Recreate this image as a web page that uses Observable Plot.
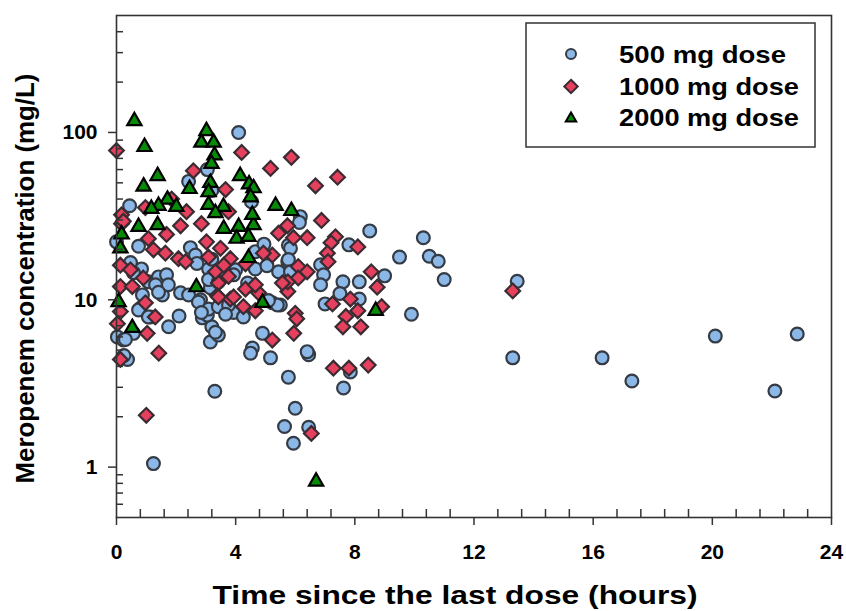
<!DOCTYPE html>
<html>
<head>
<meta charset="utf-8">
<script src="https://cdn.jsdelivr.net/npm/d3@7"></script>
<script src="https://cdn.jsdelivr.net/npm/@observablehq/plot@0.6"></script>
<style>
  html, body { margin: 0; padding: 0; background: #fff; }
  #wrap { position: relative; width: 846px; height: 611px; font-family: "Liberation Sans", Arial, sans-serif; }
  #legend { position: absolute; left: 0; top: 0; pointer-events: none; }
</style>
</head>
<body>
<div id="wrap"></div>
<script>
// ---- data (time since last dose in hours, meropenem concentration in mg/L) ----
const t500 = [10.3,10.5,10.8,11.0,9.5,9.9,9.0,8.5,13.45,13.3,16.3,17.3,20.1,22.85,22.1,
  6.17,7.8,6.85,6.95,6.85,7.6,8.15,7.5,5.75,8.15,7.0,5.5,6.45,6.4,7.85,5.77,7.62,6.0,5.64,6.45,5.94,
  1.24,3.3,0.37,0.25,0.03,0.23,0.57,0.8,1.14,0.87,1.75,2.1,1.48,1.54,2.15,2.42,2.82,2.88,3.2,3.15,3.42,3.05,3.15,3.93,4.26,5.23,5.4,4.9,4.56,4.5,5.17,
  0.0,0.74,2.48,2.65,4.66,3.09,4.0,4.66,0.84,1.07,1.41,1.68,1.31,1.74,3.09,3.42,3.93,2.75,3.09,2.85,3.42,3.76,3.66,3.32,1.41,0.74,1.07,0.3,
  4.1,2.42,3.05,4.53,0.44,6.14,5.77,5.84,5.77,5.44,5.84,5.1,3.2,0.47,0.57,4.4,2.7,3.2,4.95,5.05];
const c500 = [23.5,18.2,17,13.2,18,8.2,13.9,25.8,12.9,4.5,4.5,3.27,6.07,6.25,2.85,
  31.4,21.3,16.2,14.1,12.3,12.8,12.8,10.9,16.9,10.1,9.45,9.3,4.7,4.9,3.7,3.45,2.97,2.25,1.75,1.73,1.39,
  1.05,2.84,4.4,4.65,6.0,5.75,6.3,8.9,7.9,10.7,6.9,8.0,12.3,10.7,11.0,10.7,10.0,7.8,6.9,5.6,6.15,8.1,11.8,8.4,7.9,9.6,9.3,6.3,5.15,4.8,4.5,
  22.2,20.9,20.5,18.5,19.4,15.3,15.1,15.3,15.3,12.8,13.7,14.1,12.3,12.3,13.2,12.8,14.1,9.7,8.8,8.4,9.1,9.3,8.2,6.4,11.1,8.7,7.9,5.8,
  100,51,60,38.6,36.5,29,21.2,20.3,17.4,14.7,14.7,9.9,45,16.7,14.5,12.6,16.5,17.5,21.5,16.0];

const t1000 = [13.3,5.87,6.68,7.42,6.88,6.4,5.94,7.35,7.2,8.1,7.08,7.1,8.55,8.75,6.1,6.4,6.1,5.75,5.75,7.25,7.85,8.1,8.9,6.0,6.05,5.95,7.7,7.6,8.2,7.28,7.8,8.45,6.54,
  1.0,1.42,0.13,0.03,0.13,0.13,0.53,1.03,1.3,0.97,3.42,3.38,3.82,4.33,4.26,4.66,4.77,5.23,5.57,
  0.17,2.15,2.85,1.07,1.68,1.24,1.64,2.08,2.32,3.02,3.49,3.09,3.82,3.32,3.6,4.33,0.13,0.47,0.9,3.76,3.93,3.42,
  0,4.2,2.58,3.66,1.85,2.35,0.97,3.76,0.17,0.23,5.17,5.44,5.74,5.23,4.93,4.66];
const c1000 = [11.3,71,48,54,29.8,23.5,23.5,23.8,21.9,20.7,19,16.9,14.7,11.9,15.8,14.7,13.5,11.2,12.8,9.45,10.1,8.6,9.1,8.3,7.7,6.3,7.95,6.9,6.9,3.9,3.9,4.07,1.59,
  2.04,4.8,4.4,7.2,8.5,12,12,6.3,7.9,9.6,12.6,10.6,10.1,11.6,9.1,8.6,11.0,5.75,12.6,
  28.5,27.7,28.5,23.2,24.6,19.9,19.0,17.6,16.9,22.2,20.3,18,17.6,14.7,16.1,16.4,16.1,15.1,13.5,13.8,10.4,10.4,
  78,76,59,45.6,40,33.6,35.6,33.6,32.2,29.5,61,25,27.7,18.5,19,12.3];

const t2000 = [8.7,6.7,5.87,0.07,0.53,4.9,2.68,0.74,1.38,3.6,4.1,4.6,0.17,0.13,4.03,4.43,4.43,0.6,0.94,3.02,2.85,3.26,3.29,3.19,1.38,0.91,2.45,3.15,3.09,4.15,4.45,4.6,4.5,1.71,1.41,2.01,1.17,3.09,3.59,3.32,4.56,5.34];
const c2000 = [8.6,0.82,34,9.7,6.8,9.6,11.9,27.3,28,26.6,27.3,28,24.6,20.3,23.2,23.8,17.8,117,82,102,87,87,73,65,55,47.6,46,50,44,55,49,46.5,41,39.7,36.5,36,35,37,36,33,32.2,36.5];

const xMajor = [0, 4, 8, 12, 16, 20, 24];
const xMinor = d3.range(0, 24.01, 0.8).filter(v => Math.abs(v / 4 - Math.round(v / 4)) > 1e-6);
const yMajor = [1, 10, 100];
const yMinor = [0.6, 0.7, 0.8, 0.9, 2, 3, 4, 5, 6, 7, 8, 9, 20, 30, 40, 50, 60, 70, 80, 90, 200, 300, 400];

const seriesNames = ["500 mg dose", "1000 mg dose", "2000 mg dose"];
const xTitle = "Time since the last dose (hours)";
const yTitle = "Meropenem concentration (mg/L)";

const toRows = (ts, cs) => ts.map((t, i) => ({t, c: cs[i]}));
const d500 = toRows(t500, c500), d1000 = toRows(t1000, c1000), d2000 = toRows(t2000, c2000);

const FONT = "Liberation Sans, Arial, sans-serif";
const W = 846, H = 611, mL = 116, mR = 15, mT = 15, mB = 94;
const innerW = W - mL - mR, innerH = H - mT - mB;

const colors = {c: "#8cb8e8", d: "#e6405f", t: "#078a07"};
const strokes = {c: "#343b44", d: "#3a2c32", t: "#000"};

const chart = Plot.plot({
  width: W, height: H,
  marginLeft: mL, marginRight: mR, marginTop: mT, marginBottom: mB,
  style: {fontFamily: FONT, background: "#fff", overflow: "visible"},
  x: {domain: [0, 24]},
  y: {type: "log", domain: [0.5, 500]},
  marks: [
    Plot.dot(d500, {x: "t", y: "c", r: 6.4, fill: colors.c, stroke: strokes.c, strokeWidth: 2.2}),
    Plot.dot(d1000, {x: "t", y: "c", symbol: "diamond2", r: 6.6, fill: colors.d, stroke: strokes.d, strokeWidth: 2.2}),
    Plot.dot(d2000, {x: "t", y: "c", symbol: "triangle", r: 5.3, fill: colors.t, stroke: strokes.t, strokeWidth: 2.2}),
    Plot.frame({stroke: "#333", strokeWidth: 1.6}),
    Plot.ruleX(xMinor, {x: d => d, insetTop: innerH - 8, stroke: "#333", strokeWidth: 1.5}),
    Plot.ruleY(yMinor, {y: d => d, insetRight: innerW - 7, stroke: "#333", strokeWidth: 1.5}),
    Plot.axisX(xMajor, {tickSize: 8, tickPadding: 19, strokeWidth: 1.5, stroke: "#333", fontSize: 21, fontWeight: "bold", fill: "#000", label: null, tickFormat: d => String(d)}),
    Plot.axisY(yMajor, {tickSize: 8, tickPadding: 11, strokeWidth: 1.5, stroke: "#333", fontSize: 21, fontWeight: "bold", fill: "#000", label: null, tickFormat: d => String(d)}),
    Plot.text([xTitle], {frameAnchor: "bottom", textAnchor: "middle", dx: -19, dy: 78, lineAnchor: "middle", fontSize: 26, fontWeight: "bold", fill: "#000"}),
    Plot.text([yTitle], {frameAnchor: "left", textAnchor: "middle", dx: -91, dy: 12, rotate: -90, lineAnchor: "middle", fontSize: 26, fontWeight: "bold", fill: "#000"})
  ]
});

const wrap = document.getElementById("wrap");
wrap.appendChild(chart);

// stretch titles to the reference's widths
chart.querySelectorAll("text").forEach(el => {
  if (el.textContent === xTitle) { el.setAttribute("textLength", 485); el.setAttribute("lengthAdjust", "spacingAndGlyphs"); }
  if (el.textContent === yTitle) { el.setAttribute("textLength", 410); el.setAttribute("lengthAdjust", "spacingAndGlyphs"); }
});

// legend (SVG overlay)
const NS = "http://www.w3.org/2000/svg";
const lg = document.createElementNS(NS, "svg");
lg.setAttribute("id", "legend");
lg.setAttribute("width", W); lg.setAttribute("height", H);
const box = document.createElementNS(NS, "rect");
Object.entries({x: 526, y: 23, width: 289, height: 124, fill: "#fff", stroke: "#333", "stroke-width": 1.5}).forEach(([k, v]) => box.setAttribute(k, v));
lg.appendChild(box);
const rowsY = [54, 86.5, 117.5];
const textW = [167, 180, 180];
const symPaths = [
  `<circle cx="571" cy="${rowsY[0]}" r="5" fill="${colors.c}" stroke="${strokes.c}" stroke-width="2"/>`,
  `<path transform="translate(571,${rowsY[1]})" d="M0,-6.7L6.7,0L0,6.7L-6.7,0Z" fill="${colors.d}" stroke="${strokes.d}" stroke-width="2"/>`,
  `<path transform="translate(571,${rowsY[2]})" d="M0,-5L5.2,4L-5.2,4Z" fill="${colors.t}" stroke="${strokes.t}" stroke-width="2"/>`
];
let html = symPaths.join("");
seriesNames.forEach((name, i) => {
  html += `<text x="619" y="${rowsY[i] + 8.5}" font-family="${FONT}" font-weight="bold" font-size="24" textLength="${textW[i]}" lengthAdjust="spacingAndGlyphs" fill="#000">${name}</text>`;
});
lg.insertAdjacentHTML("beforeend", html);
wrap.appendChild(lg);
</script>
</body>
</html>
